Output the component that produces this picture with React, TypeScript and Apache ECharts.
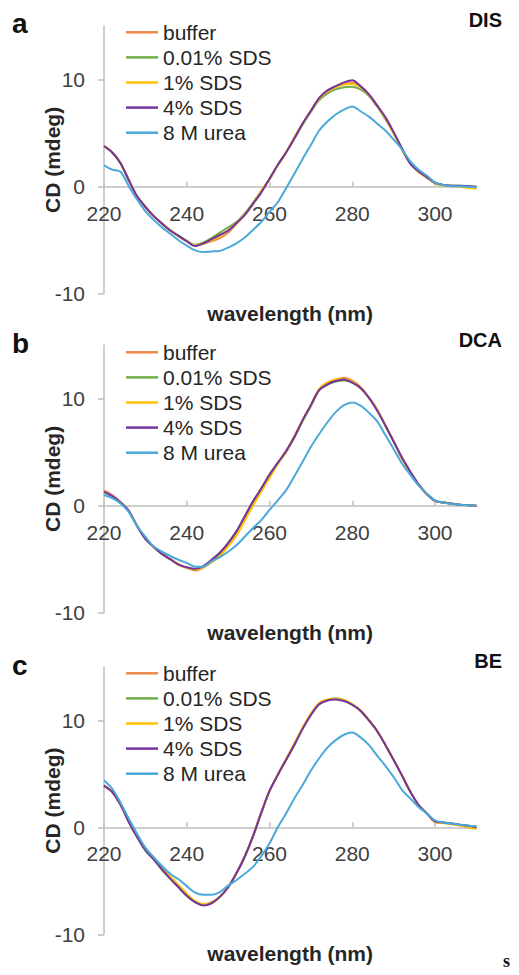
import React, { useEffect, useRef } from "react";
import * as echarts from "echarts";

const wavelengths = [220,222,224,226,228,230,232,234,236,238,240,242,244,246,248,250,252,254,256,258,260,262,264,266,268,270,272,274,276,278,280,282,284,286,288,290,292,294,296,298,300,302,304,306,308,310];

const seriesNames = ["buffer", "0.01% SDS", "1% SDS", "4% SDS", "8 M urea"];
const seriesColors = ["#F08A4B", "#72AE4A", "#FFC000", "#7434A0", "#4BA9DA"];
const panelLetters = ["a", "b", "c"];
const panelTitles = ["DIS", "DCA", "BE"];
const xTicks = [220, 240, 260, 280, 300];
const yTicks = [-10, 0, 10];

// Panel a (DIS)
const aBuffer = [3.8,3.2,2.2,0.6,-0.9,-1.9,-2.75,-3.45,-4.1,-4.6,-5.1,-5.45,-5.35,-5.1,-4.8,-4.3,-3.5,-2.6,-1.6,-0.4,0.7,2.0,3.2,4.6,5.9,7.1,8.2,8.9,9.3,9.6,9.75,9.35,8.6,7.6,6.4,5.0,3.5,2.2,1.4,0.85,0.35,0.15,0.1,0.05,0.0,-0.05];
const aSds001 = [3.8,3.2,2.2,0.6,-0.9,-1.85,-2.7,-3.4,-4.05,-4.55,-5.05,-5.45,-5.2,-4.8,-4.3,-3.8,-3.3,-2.5,-1.5,-0.4,0.7,2.0,3.2,4.5,5.8,7.0,8.1,8.7,9.1,9.3,9.35,9.1,8.5,7.5,6.3,5.0,3.5,2.2,1.4,0.85,0.35,0.15,0.1,0.1,0.05,0.0];
const aSds1 = [3.8,3.2,2.2,0.6,-0.9,-1.9,-2.75,-3.45,-4.1,-4.65,-5.1,-5.5,-5.3,-5.0,-4.6,-4.1,-3.4,-2.6,-1.6,-0.4,0.7,2.0,3.2,4.6,5.9,7.1,8.2,8.9,9.3,9.55,9.6,9.3,8.6,7.6,6.4,5.0,3.5,2.2,1.4,0.85,0.3,0.1,0.05,0.0,-0.1,-0.2];
const aSds4 = [3.8,3.2,2.2,0.6,-0.9,-1.9,-2.75,-3.45,-4.1,-4.6,-5.1,-5.55,-5.3,-4.9,-4.5,-4.1,-3.4,-2.65,-1.6,-0.55,0.75,2.05,3.2,4.5,5.9,7.1,8.3,9.0,9.4,9.75,9.95,9.4,8.65,7.6,6.5,5.1,3.6,2.15,1.45,0.9,0.35,0.15,0.1,0.1,0.05,0.0];
const aUrea = [2.0,1.6,1.4,0.05,-1.2,-2.3,-3.1,-3.8,-4.4,-5.0,-5.5,-5.95,-6.1,-6.05,-6.0,-5.7,-5.3,-4.75,-4.05,-3.3,-2.35,-1.45,-0.15,1.2,2.6,3.9,5.25,6.1,6.75,7.2,7.5,7.05,6.55,5.9,5.25,4.4,3.5,2.4,1.6,1.05,0.4,0.15,0.05,0.05,0.0,-0.05];

// Panel b (DCA)
const bBuffer = [1.4,1.0,0.35,-0.5,-1.9,-3.1,-3.85,-4.5,-5.0,-5.45,-5.8,-6.05,-5.8,-5.2,-4.5,-3.6,-2.5,-1.1,0.3,1.6,2.9,4.0,5.1,6.5,8.0,9.4,10.9,11.5,11.8,11.95,11.7,11.1,10.1,9.0,7.5,6.0,4.5,3.2,2.0,1.1,0.45,0.3,0.2,0.1,0.05,0.0];
const bSds001 = [1.3,0.9,0.3,-0.5,-1.9,-3.1,-3.85,-4.5,-5.0,-5.5,-5.8,-5.95,-5.7,-5.15,-4.4,-3.5,-2.4,-1.0,0.4,1.6,2.9,4.0,5.0,6.4,7.9,9.3,10.8,11.3,11.6,11.7,11.5,11.0,10.1,9.0,7.5,6.0,4.4,3.1,2.0,1.1,0.45,0.3,0.2,0.1,0.05,0.0];
const bSds1 = [1.3,0.9,0.3,-0.5,-1.9,-3.1,-3.85,-4.5,-5.0,-5.5,-5.8,-5.95,-5.75,-5.3,-4.7,-3.8,-2.8,-1.4,0.0,1.3,2.6,3.9,5.0,6.5,8.0,9.4,10.9,11.5,11.8,11.85,11.6,11.0,10.1,9.0,7.5,6.0,4.4,3.1,2.0,1.1,0.45,0.3,0.2,0.1,0.05,0.0];
const bSds4 = [1.3,0.9,0.3,-0.5,-1.9,-3.1,-3.85,-4.5,-5.0,-5.5,-5.75,-5.9,-5.65,-5.05,-4.4,-3.5,-2.4,-1.0,0.4,1.6,2.9,4.0,5.1,6.4,8.0,9.4,10.8,11.35,11.65,11.8,11.5,11.0,10.1,8.9,7.5,6.0,4.5,3.2,2.0,1.1,0.45,0.3,0.2,0.1,0.05,0.0];
const bUrea = [1.0,0.7,0.2,-0.6,-1.9,-2.9,-3.8,-4.3,-4.7,-5.05,-5.35,-5.7,-5.7,-5.2,-4.8,-4.3,-3.7,-2.9,-2.1,-1.35,-0.4,0.5,1.45,2.75,4.1,5.5,6.7,7.8,8.75,9.4,9.65,9.35,8.7,7.9,6.6,5.3,3.95,2.9,1.9,1.15,0.5,0.3,0.15,0.1,0.05,0.0];

// Panel c (BE)
const cBuffer = [3.9,3.3,2.1,0.5,-0.9,-2.1,-2.9,-3.9,-4.7,-5.5,-6.3,-6.9,-7.2,-7.0,-6.5,-5.6,-4.3,-2.75,-0.85,1.35,3.4,4.9,6.3,7.8,9.3,10.6,11.6,11.9,12.0,11.85,11.5,10.9,10.0,9.0,7.7,6.3,4.85,3.35,2.1,1.3,0.5,0.4,0.3,0.2,0.0,-0.1];
const cSds001 = [3.9,3.3,2.1,0.5,-0.9,-2.2,-3.0,-4.0,-4.8,-5.6,-6.4,-7.0,-7.25,-7.05,-6.5,-5.6,-4.3,-2.75,-0.85,1.35,3.4,4.9,6.3,7.7,9.2,10.5,11.5,11.9,12.05,11.9,11.5,10.9,10.0,9.0,7.7,6.3,4.85,3.35,2.1,1.3,0.55,0.45,0.35,0.25,0.15,0.05];
const cSds1 = [3.9,3.3,2.1,0.5,-0.9,-2.0,-2.8,-3.8,-4.6,-5.4,-6.2,-6.9,-7.2,-7.1,-6.5,-5.6,-4.3,-2.75,-0.85,1.35,3.4,4.9,6.4,7.8,9.3,10.6,11.6,11.95,12.0,11.9,11.5,10.95,10.05,9.0,7.7,6.3,4.85,3.35,2.1,1.3,0.5,0.4,0.3,0.2,0.0,-0.15];
const cSds4 = [3.9,3.3,2.1,0.5,-0.9,-2.1,-3.0,-3.9,-4.8,-5.6,-6.4,-7.0,-7.3,-7.1,-6.5,-5.6,-4.3,-2.75,-0.85,1.35,3.4,4.9,6.3,7.7,9.2,10.5,11.5,11.85,11.95,11.8,11.45,10.9,10.0,9.0,7.7,6.3,4.85,3.35,2.1,1.3,0.55,0.45,0.35,0.25,0.15,0.0];
const cUrea = [4.4,3.6,2.3,0.8,-0.6,-1.9,-2.8,-3.6,-4.35,-4.85,-5.5,-6.1,-6.3,-6.3,-6.05,-5.45,-4.95,-4.35,-3.7,-2.7,-1.5,0.0,1.3,2.7,3.95,5.3,6.45,7.45,8.15,8.65,8.85,8.4,7.7,6.7,5.75,4.7,3.5,2.7,1.9,1.3,0.65,0.45,0.35,0.25,0.15,0.1];

const panelData = [
  [aBuffer, aSds001, aSds1, aSds4, aUrea],
  [bBuffer, bSds001, bSds1, bSds4, bUrea],
  [cBuffer, cSds001, cSds1, cSds4, cUrea],
];

const FONT = "'Liberation Sans', Arial, sans-serif";
const AXIS_GRAY = "#BFBFBF";

export default function App() {
  const ref = useRef<HTMLDivElement>(null);

  useEffect(() => {
    if (!ref.current) return;
    const chart = echarts.init(ref.current, null, { renderer: "svg" });

    const gridTops = [26.2, 345.2, 666.8];
    const legendTops = [21.3, 341.3, 662.3];
    const letterYs = [23.5, 343.5, 665];
    const titleYs = [20.3, 340, 660.7];
    const gridH = 267.5;
    const Y_MIN = -10;
    const Y_MAX = 15;
    // height of the part of each plot that lies above y = 0
    const zeroH = (gridH * Y_MAX) / (Y_MAX - Y_MIN);

    // main grids (0..2) and grids that end at y = 0 and carry the x tick labels (3..5)
    const grids = [
      ...gridTops.map((t) => ({ left: 104, top: t, width: 372.4, height: gridH })),
      ...gridTops.map((t) => ({ left: 104, top: t, width: 372.4, height: zeroH })),
    ];

    const mainX = gridTops.map((_, i) => ({
      type: "value",
      gridIndex: i,
      min: 220,
      max: 310,
      interval: 20,
      name: "wavelength (nm)",
      nameLocation: "middle",
      nameGap: 9,
      nameMoveOverlap: false,
      nameTextStyle: { fontFamily: FONT, fontSize: 21, fontWeight: "bold", color: "#262626" },
      axisLine: { show: false },
      axisTick: { show: false },
      axisLabel: { show: false },
      splitLine: { show: false },
    }));

    const zeroX = gridTops.map((_, i) => ({
      type: "value",
      gridIndex: 3 + i,
      position: "bottom",
      min: 220,
      max: 310,
      interval: 20,
      axisLine: { show: true, onZero: false, lineStyle: { color: AXIS_GRAY, width: 1.5 } },
      axisTick: { show: true, inside: true, length: 5, customValues: xTicks, lineStyle: { color: AXIS_GRAY, width: 1.5 } },
      axisLabel: { customValues: xTicks, margin: 16, fontFamily: FONT, fontSize: 21, color: "#404040" },
      splitLine: { show: false },
    }));

    const mainY = gridTops.map((_, i) => ({
      type: "value",
      gridIndex: i,
      min: Y_MIN,
      max: Y_MAX,
      interval: 10,
      name: "CD (mdeg)",
      nameLocation: "middle",
      nameGap: 41.5,
      nameMoveOverlap: false,
      nameTextStyle: { fontFamily: FONT, fontSize: 21, fontWeight: "bold", color: "#262626" },
      axisLine: { show: true, onZero: false, lineStyle: { color: AXIS_GRAY, width: 1.5 } },
      axisTick: { show: true, inside: false, length: 6, customValues: yTicks, lineStyle: { color: AXIS_GRAY, width: 1.5 } },
      axisLabel: { customValues: yTicks, margin: 19, fontFamily: FONT, fontSize: 21, color: "#404040" },
      splitLine: { show: false },
    }));

    const zeroY = gridTops.map((_, i) => ({
      type: "value",
      gridIndex: 3 + i,
      min: 0,
      max: Y_MAX,
      show: false,
    }));

    const series: any[] = [];
    panelData.forEach((arrs, p) => {
      arrs.forEach((vals, s) => {
        series.push({
          type: "line",
          name: seriesNames[s],
          xAxisIndex: p,
          yAxisIndex: p,
          data: wavelengths.map((w, k) => [w, vals[k]]),
          showSymbol: false,
          smooth: 0.3,
          color: seriesColors[s],
          lineStyle: { width: 2, color: seriesColors[s] },
          z: 2 + s,
        });
      });
    });

    const legends = legendTops.map((t) => ({
      orient: "vertical",
      left: 126,
      top: t,
      padding: 0,
      itemGap: 3.1,
      itemWidth: 32,
      itemHeight: 2.5,
      itemTextGap: 3,
      icon: "rect",
      selectedMode: false,
      data: seriesNames,
      textStyle: { fontFamily: FONT, fontSize: 21, lineHeight: 22, color: "#262626" },
    }));

    const graphics: any[] = [];
    panelLetters.forEach((l, i) => {
      graphics.push({
        type: "text",
        left: 12,
        top: letterYs[i] - 14,
        style: { text: l, font: `bold 28px ${FONT}`, fill: "#111" },
      });
      graphics.push({
        type: "text",
        right: 17,
        top: titleYs[i] - 10,
        style: { text: panelTitles[i], font: `bold 20px ${FONT}`, fill: "#111" },
      });
    });
    graphics.push({
      type: "text",
      left: 503,
      top: 952,
      style: { text: "s", font: `bold 18px 'Liberation Serif', 'Times New Roman', serif`, fill: "#111" },
    });

    chart.setOption({
      animation: false,
      backgroundColor: "#ffffff",
      grid: grids,
      xAxis: [...mainX, ...zeroX],
      yAxis: [...mainY, ...zeroY],
      legend: legends,
      series,
      graphic: graphics,
    });

    return () => chart.dispose();
  }, []);

  return (
    <div
      ref={ref}
      style={{ position: "absolute", left: 0, top: 0, width: 519, height: 975, background: "#fff" }}
    />
  );
}
